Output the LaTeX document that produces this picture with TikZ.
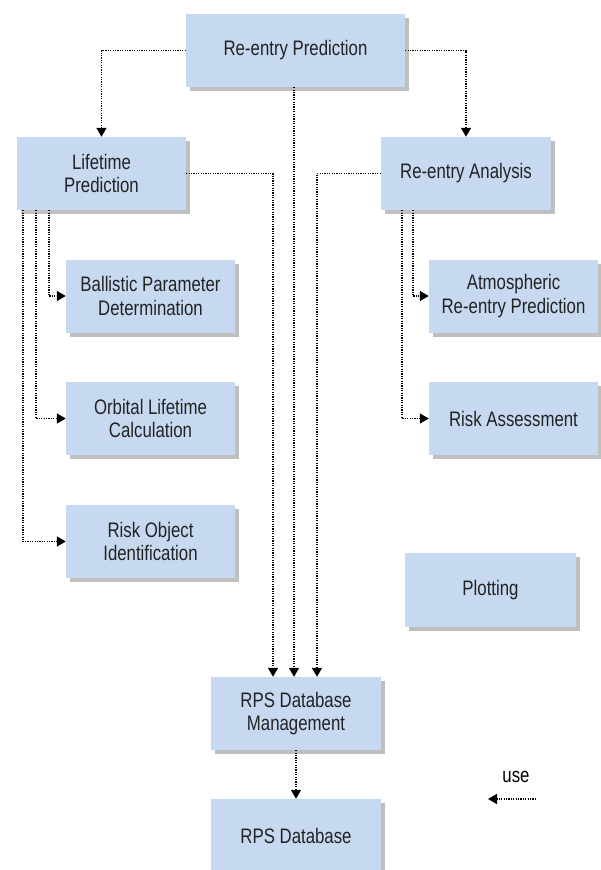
\documentclass[tikz,border=0pt]{standalone}
\usepackage{fontspec}
\setmainfont{Liberation Sans}[FakeStretch=0.8]
\usetikzlibrary{arrows.meta,shadows}
\definecolor{boxblue}{RGB}{198,217,240}
\definecolor{txt}{RGB}{35,35,35}
\tikzset{
  box/.style={rectangle, fill=boxblue, inner sep=0pt, align=center,
    text=txt, font=\fontsize{21}{23.5}\selectfont,
    drop shadow={shadow xshift=4pt, shadow yshift=-4pt, fill=black!50, opacity=0.5}},
  wbox/.style={box, minimum width=169pt, minimum height=73pt},
  conn/.style={line width=1.5pt, dash pattern=on 1.2pt off 1.2pt,
    -{Triangle[width=10pt,length=9pt]}},
}
\begin{document}
\begin{tikzpicture}[x=1pt,y=-1pt]
\useasboundingbox (0,0) rectangle (601,870);
\node[box, minimum width=219pt, minimum height=73pt] (rep) at (295.5,50.5) {Re-entry Prediction};
\node[wbox] (life) at (101.5,173.5) {Lifetime\\Prediction};
\node[wbox, minimum width=170pt] (rea) at (466,173.5) {Re-entry Analysis};
\node[wbox] (bal) at (150.5,296) {Ballistic Parameter\\Determination};
\node[wbox] (orb) at (150.5,418.5) {Orbital Lifetime\\Calculation};
\node[wbox] (rob) at (150.5,541.5) {Risk Object\\Identification};
\node[wbox] (atm) at (513.5,296) {Atmospheric\\Re-entry Prediction};
\node[wbox] (risk) at (513.5,418.5) {Risk Assessment};
\node[wbox, minimum width=171pt, minimum height=74pt] (plot) at (490.5,590) {Plotting};
\node[wbox, minimum width=170pt] (dbm) at (296,713.5) {RPS Database\\Management};
\node[wbox, minimum width=170pt] (db) at (296,835.5) {RPS Database};

\draw[conn] (rep.west) -| (life.north);
\draw[conn] (rep.east) -| (rea.north);
\draw[conn] ([xshift=-1.5pt]rep.south) -- ([xshift=-1.5pt]rep.south |- dbm.north);
\draw[conn] (life.east) -| ([xshift=-23pt]dbm.north);
\draw[conn] (rea.west) -| ([xshift=21pt]dbm.north);
\draw[conn] ([xshift=32pt]life.south west) |- (bal.west);
\draw[conn] ([xshift=19pt]life.south west) |- (orb.west);
\draw[conn] ([xshift=6pt]life.south west) |- (rob.west);
\draw[conn] ([xshift=32pt]rea.south west) |- (atm.west);
\draw[conn] ([xshift=21pt]rea.south west) |- (risk.west);
\draw[conn] (dbm.south) -- (db.north);

\node[text=black, font=\fontsize{21}{23.5}\selectfont] (use) at (516,777) {use};
\coordinate (lgA) at (536,799);
\coordinate (lgB) at (488,799);
\draw[conn] (lgA) -- (lgB);
\end{tikzpicture}
\end{document}
